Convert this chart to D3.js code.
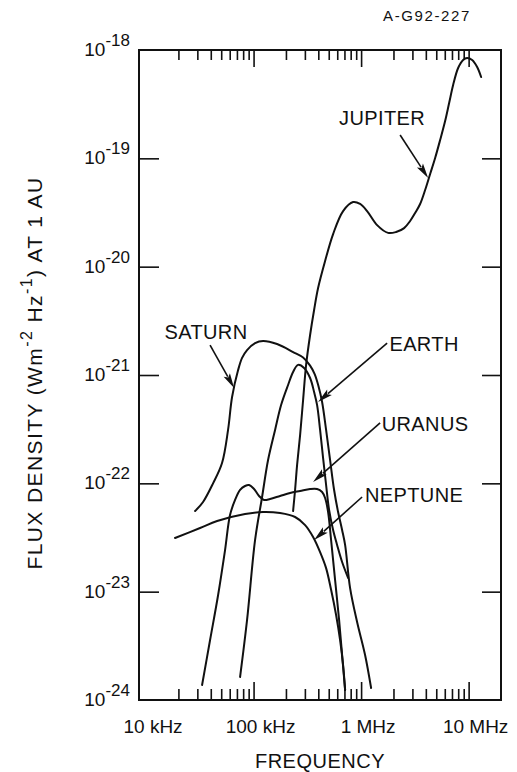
<!DOCTYPE html>
<html>
<head>
<meta charset="utf-8">
<script src="https://cdn.jsdelivr.net/npm/d3@7"></script>
<style>
  html, body { margin: 0; padding: 0; background: #fff; }
  svg { display: block; font-family: "Liberation Sans", Arial, Helvetica, sans-serif; }
</style>
</head>
<body>
<svg id="chart" width="517" height="772"></svg>
<script>
// Spectra of planetary radio emissions: [frequency (kHz), flux density (W m^-2 Hz^-1 at 1 AU)]
const jupiter = [
  [233.1, 5.55e-23], [243.2, 8.68e-23], [254.0, 1.48e-22], [270.8, 2.79e-22],
  [288.8, 5.88e-22], [308.0, 1.24e-21], [335.5, 2.34e-21], [365.5, 3.98e-21],
  [398.1, 6.35e-21], [462.6, 1.128e-20], [549.1, 2.0e-20], [680.2, 3.26e-20],
  [842.4, 3.95e-20], [979, 3.79e-20], [1137, 3.26e-20], [1409, 2.42e-20],
  [1783, 2.05e-20], [2117, 2.09e-20], [2512, 2.27e-20], [2857, 2.64e-20],
  [3179, 3.13e-20], [3539, 3.79e-20], [3939, 5.10e-20], [4385, 7.17e-20],
  [4881, 1.007e-19], [5432, 1.476e-19], [6045, 2.21e-19], [6587, 3.24e-19],
  [7176, 4.75e-19], [7987, 6.82e-19], [8889, 8.09e-19], [9683, 8.44e-19],
  [10780, 8.09e-19], [11999, 6.97e-19], [13070, 5.63e-19]
];

const saturn = [
  [28.6, 5.55e-23], [33.9, 6.73e-23], [42.0, 1.0e-22], [50.9, 1.54e-22],
  [57.9, 3.11e-22], [63.1, 6.26e-22], [71.8, 1.11e-21], [78.2, 1.44e-21],
  [87.0, 1.70e-21], [103.3, 1.97e-21], [122.6, 2.06e-21], [165.4, 1.93e-21],
  [233.1, 1.63e-21], [288.8, 1.45e-21], [335.5, 1.22e-21], [370.0, 1.02e-21],
  [400.0, 8.0e-22], [433.8, 5.63e-22], [472.6, 3.11e-22], [514.9, 1.64e-22],
  [561.0, 8.68e-23], [611.0, 5.44e-23], [665.8, 3.71e-23], [710.0, 2.70e-23],
  [790.2, 1.08e-23], [917.9, 5.25e-24], [1089, 2.60e-24], [1239, 1.29e-24]
];

const earth = [
  [74.9, 1.63e-24], [87.0, 5.48e-24], [103.3, 3.0e-23], [120.0, 7.48e-23],
  [136.4, 1.64e-22], [158.5, 3.11e-22], [180.3, 5.28e-22], [209.4, 8.09e-22],
  [233.1, 1.066e-21], [259.4, 1.24e-21], [295.0, 1.16e-21], [335.5, 9.38e-22],
  [365.5, 6.97e-22], [389.8, 5.28e-22], [415.6, 3.11e-22], [443.2, 1.71e-22],
  [472.6, 9.65e-23], [504.0, 5.67e-23], [549.1, 3.71e-23], [598.2, 2.70e-23],
  [665.8, 1.88e-23], [757.0, 1.34e-23]
];

const uranus = [
  [33.2, 1.375e-24], [39.4, 3.58e-24], [46.8, 9.31e-24], [54.3, 2.42e-23],
  [60.4, 5.10e-23], [67.3, 7.02e-23], [74.9, 8.68e-23], [83.3, 9.45e-23],
  [90.8, 9.65e-23], [101.1, 8.87e-23], [112.5, 7.64e-23], [125.2, 7.02e-23],
  [142.4, 7.17e-23], [176.4, 7.64e-23], [218.6, 8.14e-23], [270.8, 8.50e-23],
  [335.5, 8.87e-23], [389.8, 8.87e-23], [433.8, 8.32e-23], [462.6, 7.32e-23],
  [493.3, 5.44e-23], [526.0, 3.0e-23], [573.1, 1.28e-23], [624.3, 5.48e-24],
  [665.8, 2.60e-24], [710.0, 1.24e-24]
];

const neptune = [
  [18.6, 3.13e-23], [31.8, 3.87e-23], [45.8, 4.49e-23], [83.3, 5.21e-23],
  [122.6, 5.44e-23], [176.4, 5.32e-23], [243.2, 4.89e-23], [301.5, 4.12e-23],
  [357.8, 3.20e-23], [415.6, 2.32e-23], [472.6, 1.65e-23], [526.0, 1.04e-23],
  [585.5, 6.09e-24], [637.8, 3.58e-24], [680.2, 2.10e-24], [710.0, 1.24e-24]
];

const series = [jupiter, saturn, earth, uranus, neptune];

// Curve labels with leader arrows, all in data units
const labelNames = ["JUPITER", "SATURN", "EARTH", "URANUS", "NEPTUNE"];
const labelAt    = [[1568, 2.36e-19], [36.1, 2.49e-21], [3855, 1.93e-21], [3939, 3.53e-22], [3112, 7.8e-23]];
const leaderFrom = [[2306, 1.64e-19], [39.4, 1.89e-21], [1746, 1.97e-21], [1502, 3.61e-22], [1022, 7.48e-23]];
const leaderTip  = [[4201, 6.58e-20], [65.9, 7.59e-22], [398.1, 5.63e-22], [357.8, 1.03e-22], [365.5, 3.0e-23]];

// Axis ticks (kHz and W m^-2 Hz^-1)
const decadeTicks = [100, 1000, 10000];
const minorTicks = [];
[10, 100, 1000].forEach(d => { for (let k = 2; k <= 9; k++) minorTicks.push(k * d); });
const freqLabelValues = [10, 100, 1000, 10000];
const freqLabelText = ["10 kHz", "100 kHz", "1 MHz", "10 MHz"];
const fluxTicks = [1e-24, 1e-23, 1e-22, 1e-21, 1e-20, 1e-19, 1e-18];
const fluxExponents = ["-24", "-23", "-22", "-21", "-20", "-19", "-18"];

const W = 517, H = 772;
const margin = { top: 50, right: 16, bottom: 72, left: 139 };
const x = d3.scaleLog().domain([8.6, 20000]).range([margin.left, W - margin.right]);
const y = d3.scaleLog().domain([1e-24, 1e-18]).range([H - margin.bottom, margin.top]);

const svg = d3.select("#chart");
const ink = "#111";

// Frame
svg.append("rect")
  .attr("x", x.range()[0]).attr("y", y.range()[1])
  .attr("width", x.range()[1] - x.range()[0])
  .attr("height", y.range()[0] - y.range()[1])
  .attr("fill", "none").attr("stroke", ink).attr("stroke-width", 2);

function styleAxis(g) {
  g.select(".domain").remove();
  g.selectAll(".tick line").attr("stroke", ink).attr("stroke-width", 1.6);
  g.selectAll(".tick text").remove();
}

// Frequency ticks on bottom and top, pointing inward
const yBottom = y.range()[0], yTop = y.range()[1];
svg.append("g").attr("transform", `translate(0,${yBottom})`)
  .call(d3.axisBottom(x).tickValues(minorTicks).tickSize(-11).tickFormat(""))
  .call(styleAxis);
svg.append("g").attr("transform", `translate(0,${yBottom})`)
  .call(d3.axisBottom(x).tickValues(decadeTicks).tickSize(-18).tickFormat(""))
  .call(styleAxis);
svg.append("g").attr("transform", `translate(0,${yTop})`)
  .call(d3.axisTop(x).tickValues(minorTicks).tickSize(-10).tickFormat(""))
  .call(styleAxis);
svg.append("g").attr("transform", `translate(0,${yTop})`)
  .call(d3.axisTop(x).tickValues(decadeTicks).tickSize(-17).tickFormat(""))
  .call(styleAxis);

// Flux ticks on left and right, pointing inward
const inner = fluxTicks.slice(1, -1);
svg.append("g").attr("transform", `translate(${x.range()[0]},0)`)
  .call(d3.axisLeft(y).tickValues(inner).tickSize(-20).tickFormat(""))
  .call(styleAxis);
svg.append("g").attr("transform", `translate(${x.range()[1]},0)`)
  .call(d3.axisRight(y).tickValues(inner).tickSize(-19).tickFormat(""))
  .call(styleAxis);

// Flux tick labels: 10 with superscript exponent
fluxTicks.forEach((v, i) => {
  const t = svg.append("text")
    .attr("x", x.range()[0] - 9)
    .attr("y", y(v) + 6)
    .attr("text-anchor", "end")
    .attr("fill", ink)
    .attr("font-size", 19);
  t.append("tspan").text("10");
  t.append("tspan").attr("dy", -10).attr("font-size", 17).text(fluxExponents[i]);
});

// Frequency tick labels
svg.append("g").selectAll("text")
  .data(freqLabelValues)
  .join("text")
  .attr("x", d => x(d) + 7)
  .attr("y", 733)
  .attr("text-anchor", "middle")
  .attr("fill", ink)
  .attr("font-size", 19)
  .text((d, i) => freqLabelText[i]);

// Axis titles
svg.append("text")
  .attr("x", (x.range()[0] + x.range()[1]) / 2)
  .attr("y", 768)
  .attr("text-anchor", "middle")
  .attr("fill", ink)
  .attr("font-size", 20)
  .attr("letter-spacing", 0.5)
  .text("FREQUENCY");

const yt = svg.append("text")
  .attr("transform", `translate(42,${(y.range()[0] + y.range()[1]) / 2 - 2}) rotate(-90)`)
  .attr("text-anchor", "middle")
  .attr("fill", ink)
  .attr("font-size", 21)
  .attr("letter-spacing", 1.4);
yt.append("tspan").text("FLUX DENSITY (Wm");
yt.append("tspan").attr("dy", -10).attr("font-size", 16).text("-2");
yt.append("tspan").attr("dy", 10).text(" Hz");
yt.append("tspan").attr("dy", -10).attr("font-size", 16).text("-1");
yt.append("tspan").attr("dy", 10).text(") AT 1 AU");

// Figure code
svg.append("text")
  .attr("x", 427).attr("y", 21)
  .attr("text-anchor", "middle")
  .attr("fill", ink)
  .attr("font-size", 15)
  .attr("letter-spacing", 1.6)
  .text("A-G92-227");

// Spectra
const line = d3.line()
  .x(d => x(d[0]))
  .y(d => y(d[1]))
  .curve(d3.curveCatmullRom.alpha(0.5));

svg.append("g").selectAll("path")
  .data(series)
  .join("path")
  .attr("d", line)
  .attr("fill", "none")
  .attr("stroke", ink)
  .attr("stroke-width", 2)
  .attr("stroke-linejoin", "round")
  .attr("stroke-linecap", "round");

// Labels and leader arrows
const ann = svg.append("g");
labelNames.forEach((name, i) => {
  ann.append("text")
    .attr("x", x(labelAt[i][0]))
    .attr("y", y(labelAt[i][1]))
    .attr("dy", "0.36em")
    .attr("text-anchor", "middle")
    .attr("fill", ink)
    .attr("font-size", 20)
    .attr("letter-spacing", 0.4)
    .text(name);

  const x0 = x(leaderFrom[i][0]), y0 = y(leaderFrom[i][1]);
  const x1 = x(leaderTip[i][0]),  y1 = y(leaderTip[i][1]);
  const len = Math.hypot(x1 - x0, y1 - y0);
  const ux = (x1 - x0) / len, uy = (y1 - y0) / len;
  const head = 15, half = 3.6;
  const bx = x1 - ux * head, by = y1 - uy * head;

  ann.append("line")
    .attr("x1", x0).attr("y1", y0)
    .attr("x2", bx + ux * 2).attr("y2", by + uy * 2)
    .attr("stroke", ink).attr("stroke-width", 1.6);

  ann.append("path")
    .attr("d", `M${x1},${y1}L${bx - uy * half},${by + ux * half}L${bx + ux * 3},${by + uy * 3}L${bx + uy * half},${by - ux * half}Z`)
    .attr("fill", ink);
});
</script>
</body>
</html>
